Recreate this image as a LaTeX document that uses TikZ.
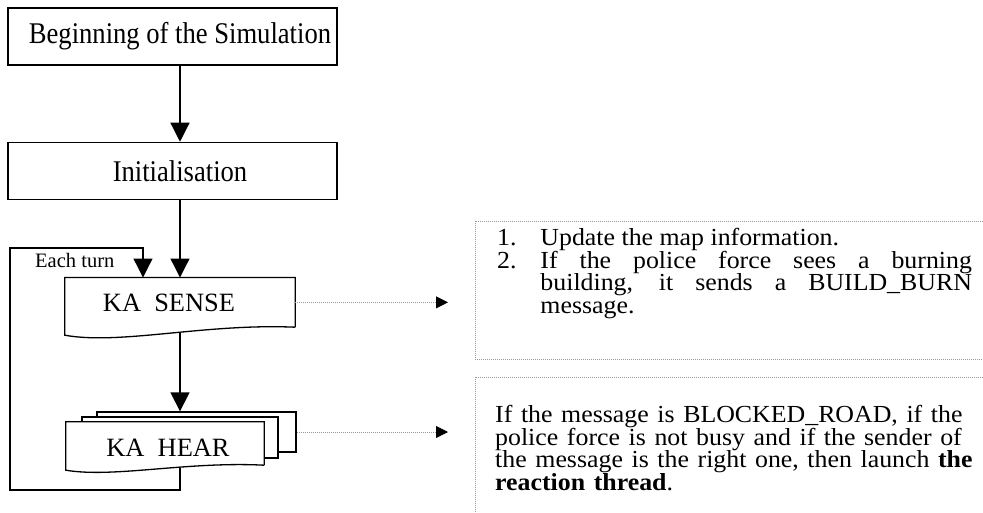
\documentclass[tikz,border=0pt]{standalone}
\usepackage{fontspec}
\setmainfont{Liberation Serif}
\usetikzlibrary{positioning,arrows.meta,calc}
\definecolor{ink}{HTML}{000000}
\definecolor{dotgray}{HTML}{9A9A9A}
\newcommand{\bodysz}{\fontsize{24.5}{22.7}\selectfont}
\newcommand{\itemlab}[1]{\makebox[41pt][l]{#1}}

\begin{document}
\begin{tikzpicture}[x=1pt, y=-1pt,
  flow/.style={-{Triangle[length=19pt, width=19pt]}, line width=1.3pt, draw=ink},
  note/.style={-{Triangle[length=12pt, width=12pt, color=ink]}, draw=dotgray,
    dash pattern=on 1pt off 1pt, line width=0.8pt},
  stepbox/.style={draw=ink, line width=1.3pt, fill=white, inner sep=0pt,
    minimum width=329pt, minimum height=50.5pt, yscale=1.13,
    font=\fontsize{26.6}{30}\selectfont},
  sheet/.style={draw=ink, line width=1.3pt, fill=white, inner sep=0pt},
  ka/.style={inner sep=0pt, font=\fontsize{26.4}{30}\selectfont},
  infobox/.style={draw=dotgray, dash pattern=on 1pt off 1pt, line width=0.8pt},
  info/.style={inner sep=0pt, xscale=1.055, font=\bodysz, anchor=north west,
    text width=480pt, align=left},
]
\useasboundingbox (0,0) rectangle (983,512);

% ---- main column ------------------------------------------------------------
\node[stepbox] (begin) at (172.5,36.5) {\hspace*{15pt}Beginning of the Simulation};
\node[stepbox] (init) at (172.5,171) {\hspace*{15pt}Initialisation};

% KA SENSE: document shape with a wavy bottom
\node[minimum width=230pt, minimum height=49.3pt, inner sep=0pt] (sense) at (180,302.35) {};
\draw[sheet] (sense.south east) -- (sense.north east) -- (sense.north west)
  -- ($(sense.south west)+(0,8)$) .. controls +(55,10) and +(-90,-4) .. (sense.south east);
\node[ka] (sensetitle) at (169,303) {KA\ \ SENSE};

% KA HEAR: stack of three documents
\node[sheet, minimum width=199pt, minimum height=40pt] (hearback) at (196.5,432) {};
\node[sheet, minimum width=196pt, minimum height=41pt] (hearmid) at (180,437.5) {};
\node[ka, minimum width=198pt, minimum height=52pt] (hear) at (165,448) {};
\draw[sheet] ($(hear.south east)+(0,-9)$) -- (hear.north east) -- (hear.north west)
  -- ($(hear.south west)+(0,-4)$) .. controls +(48,8) and +(-78,-4) .. ($(hear.south east)+(0,-9)$);
\node[ka] (heartitle) at (168,448) {KA\ \ HEAR};

\draw[flow] (begin.south -| sense.north) -- (init.north -| sense.north);
\draw[flow] (init.south -| sense.north) -- (sense.north);
\draw[flow, shorten <=5pt] (sense.south) -- (hearback.north -| sense.south);

% ---- loop: each turn ----------------------------------------------------------
\coordinate (loopbl) at (10,490);
\coordinate (looptl) at (10,248);
\coordinate (looptr) at (143,248);
\draw[flow, shorten <=-6pt] (hear.south -| sense.south) |- (loopbl) -- (looptl)
  -- (looptr) -- (looptr |- sense.north);
\node[anchor=west, inner sep=0pt, font=\fontsize{20.5}{24}\selectfont] (turnlabel)
  at (35,260) {Each turn};

% ---- notes ------------------------------------------------------------------
\draw[infobox] (475,221) rectangle (990,359);
\draw[infobox] (475,377) rectangle (990,520);

% item text runs 540..972 in the picture, i.e. 432/1.055 before the stretch
\node[info, align=justify] (senseinfo) at (497,228) {%
  \itemlab{1.}Update the map information.\par
  \itemlab{2.}\parbox[t]{409pt}{If the police force sees a burning\linebreak
    building, it sends a BUILD\_BURN\linebreak message.}};

\node[info] (hearinfo) at (495,405) {%
  If the message is BLOCKED\_ROAD, if the\\
  police force is not busy and if the sender of\\
  the message is the right one, then launch \textbf{the}\\
  \textbf{reaction thread}.};

\coordinate (notetip) at (448,0);
\draw[note] (sense.east) -- (sense.east -| notetip);
\draw[note] (hearback.east) -- (hearback.east -| notetip);

\end{tikzpicture}
\end{document}
